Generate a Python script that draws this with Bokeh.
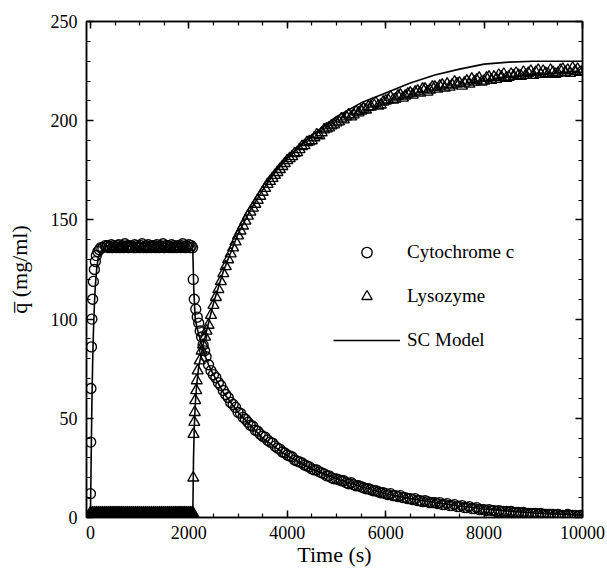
from bokeh.plotting import figure
from bokeh.models import (LinearAxis, SingleIntervalTicker, Range1d, Legend,
                          LegendItem)
from bokeh.embed import file_html
from bokeh.resources import INLINE

# ---------------- data ----------------
# Cytochrome c (circles): breakthrough, plateau, displacement, decay
cyt_rise_time = [0, 5, 10, 20, 30, 45, 60, 80, 100, 120, 150, 180, 210, 250, 300]
cyt_rise_q = [12, 38, 65, 86, 100, 110, 119, 125, 129, 132, 134, 135, 136, 136, 137]

cyt_plateau_time = list(range(325, 2051, 25))
cyt_plateau_q = [136.5, 137, 136, 136.5, 137.5, 136, 137, 136.5, 136, 137,
                 137.5, 136, 136.5, 137, 136, 138, 136.5, 137, 136, 136.5,
                 137, 136.5, 136, 137.5, 136, 137, 136.5, 136, 137, 138,
                 136, 136.5, 137, 136, 137.5, 136.5, 136, 137, 136.5, 137,
                 136, 137.5, 136.5, 136, 137, 136.5, 138, 136, 137, 136.5,
                 137, 136, 136.5, 137.5, 136, 137, 136.5, 136, 137, 136.5,
                 136, 137, 138, 136.5, 136, 137, 136.5, 137.5, 136, 137]

cyt_drop_time = [2075, 2090, 2110, 2140, 2170, 2200, 2230, 2260, 2290, 2320,
                 2350, 2400, 2450]
cyt_drop_q = [136, 120, 110, 105, 101, 98, 94, 91, 87, 84, 81, 77, 74]

cyt_decay_time = list(range(2500, 10001, 50))
cyt_decay_q = [72, 70.5, 68, 66.5, 64, 62, 60.5, 58, 57, 55.5,
               53, 52.5, 50.5, 49.5, 48, 46.5, 46, 44, 43.5, 42,
               41, 40.5, 39, 38, 37.5, 36, 35, 34.5, 33, 32.5,
               31.5, 31, 30.5, 29, 28.5, 28, 27.5, 26.5, 26, 25.5,
               24.5, 24, 24, 23, 22.5, 22, 21, 21, 20, 19.5,
               19.5, 19, 18.5, 18.5, 17.5, 17, 17.5, 16.5, 16, 16,
               15.5, 15, 14.5, 14.5, 14, 13.5, 13.5, 13, 12.5, 12.5,
               12, 11.5, 12, 11, 11, 10.5, 11, 10, 10, 9.5,
               9.5, 9, 9.5, 8.5, 8.5, 8, 8.5, 8, 7.5, 7.5,
               7.5, 7, 7.5, 6.5, 6.5, 7, 6, 6, 6.5, 5.5,
               5.5, 6, 5, 5, 5.5, 4.5, 4.5, 5, 4, 4,
               4, 3.5, 4, 3.5, 3.5, 3, 3.5, 3, 3, 3,
               2.5, 3, 2.5, 2.5, 2.5, 2, 2.5, 2, 2, 2,
               2, 2, 1.5, 2, 1.5, 1.5, 1.5, 1.5, 1.5, 1,
               1.5, 1, 1, 1, 1.5, 1, 1, 1, 0.5, 1,
               1]

# Lysozyme (triangles): zero phase, breakthrough, uptake
lys_zero_time = list(range(0, 2081, 40))
lys_zero_q = [0, 0, 0, 0, 0, 0, 0, 0, 0, 0, 0, 0, 0, 0, 0, 0, 0, 0,
              0, 0, 0, 0, 0, 0, 0, 0, 0, 0, 0, 0, 0, 0, 0, 0, 0, 0,
              0, 0, 0, 0, 0, 0, 0, 0, 0, 0, 0, 0, 0, 0, 0, 0, 0]

lys_rise_time = [2090, 2095, 2110, 2120, 2130, 2150, 2160, 2180, 2220, 2260,
                 2290, 2330, 2360, 2400, 2450]
lys_rise_q = [20, 42, 48, 53, 59, 64, 69, 74, 79, 84, 87, 91, 94, 97, 102]

lys_up_time = list(range(2500, 10001, 50))
lys_up_q = [107, 111, 115, 119, 123, 126.5, 130, 133, 136, 139,
            142, 144.5, 147, 149.5, 152, 154, 156, 158, 160, 162,
            164, 166, 168, 169.5, 171, 172.5, 174, 175.5, 177, 178.5,
            180, 181, 182, 183.5, 184, 185.5, 187, 187.5, 189, 189.5,
            190, 191.5, 193, 192.5, 194, 195.5, 196, 196.5, 197.5, 198,
            199, 199.5, 201, 200.5, 202, 203, 202, 203, 204.5, 204,
            205, 206, 205.5, 207, 207, 208.5, 209, 207.5, 208, 209.5,
            210, 210.5, 212, 210.5, 211, 212.5, 213, 211.5, 212.5, 213.5,
            214, 213, 214.5, 215, 214, 216, 216, 214.5, 215.5, 217,
            217, 216, 217.5, 218, 216.5, 218.5, 217, 218, 219.5, 218.5,
            219, 217.5, 219, 220, 218.5, 221, 219.5, 220.5, 221.5, 219.5,
            220, 221.5, 222, 220.5, 222, 221, 223, 222, 223.5, 221.5,
            222, 223.5, 222.5, 224, 223, 222.5, 224.5, 223, 224, 225,
            223, 224.5, 225.5, 223.5, 225, 224, 223.5, 225.5, 224.5, 223.5,
            224, 225.5, 226, 224.5, 225.5, 224, 226.5, 225, 226, 224.5,
            225]

# SC Model (lines)
cyt_model_time = [0, 10, 20, 30, 45, 60, 80, 100, 130, 160, 200, 250, 300,
                  2080, 2100, 2130, 2170, 2230, 2290, 2400, 2500, 2700, 3000,
                  3500, 4000, 4500, 5000, 5500, 6000, 6500, 7000, 7500, 8000,
                  8500, 9000, 9500, 10000]
cyt_model_q = [0, 20, 40, 58, 78, 93, 107, 117, 126, 131, 134, 135, 135,
               135, 115, 100, 95, 90, 84, 77, 72, 63, 53,
               40, 31, 24.5, 19.5, 15.5, 12, 9.5, 7.5, 5.8, 4.3,
               3.2, 2.3, 1.7, 1.2]
lys_model_time = [0, 2080, 2085, 2095, 2110, 2130, 2160, 2200, 2250, 2300,
                  2400, 2500, 2700, 3000, 3250, 3500, 3750, 4000, 4250, 4500,
                  4750, 5000, 5500, 6000, 6500, 7000, 7500, 8000, 8500, 9000,
                  9500, 10000]
lys_model_q = [0, 0, 10, 30, 45, 57, 67, 76, 82, 88,
               98, 108, 124, 143, 155, 165, 174, 181, 187, 192.5,
               197.5, 202, 209, 214, 219, 223, 226, 228.5, 229.5, 230,
               230, 230]

x_ticks_interval = 2000
y_ticks_interval = 50


def pairs(t, q):
    n = min(len(t), len(q))
    return list(t[:n]), list(q[:n])


cyt_t, cyt_v = pairs(cyt_rise_time + cyt_plateau_time + cyt_drop_time + cyt_decay_time,
                     cyt_rise_q + cyt_plateau_q + cyt_drop_q + cyt_decay_q)
lys_t, lys_v = pairs(lys_rise_time + lys_up_time, lys_rise_q + lys_up_q)
lz_t, lz_v = pairs(lys_zero_time, lys_zero_q)

# ---------------- figure ----------------
FONT = "Liberation Serif"

p = figure(width=607, height=573, output_backend="svg", toolbar_location=None,
           x_range=Range1d(-80, 10000), y_range=Range1d(0, 250),
           min_border_left=86, min_border_right=25, min_border_top=21,
           min_border_bottom=56, background_fill_color="white",
           border_fill_color="white")
p.grid.visible = False
p.outline_line_color = "black"
p.outline_line_width = 1.5


def style_axis(ax, show_labels=True):
    ax.axis_line_color = "black"
    ax.axis_line_width = 1.5
    ax.major_tick_in = 7
    ax.major_tick_out = 0
    ax.minor_tick_in = 4
    ax.minor_tick_out = 0
    ax.major_tick_line_color = "black"
    ax.minor_tick_line_color = "black"
    ax.major_tick_line_width = 1.5
    ax.minor_tick_line_width = 1.2
    ax.major_label_text_font = FONT
    if show_labels:
        ax.major_label_text_color = "black"
        ax.major_label_text_font_size = "18px"
    else:
        ax.major_label_text_color = None
        ax.major_label_text_font_size = "0px"
    ax.axis_label_text_font = FONT
    ax.axis_label_text_font_style = "normal"
    ax.axis_label_text_color = "black"
    ax.axis_label_text_font_size = "22px"


xa = p.xaxis[0]
xa.ticker = SingleIntervalTicker(interval=x_ticks_interval, num_minor_ticks=4)
xa.axis_label = "Time (s)"
style_axis(xa)
xa.major_label_standoff = 8
xa.axis_label_standoff = 0

ya = p.yaxis[0]
ya.ticker = SingleIntervalTicker(interval=y_ticks_interval, num_minor_ticks=5)
ya.axis_label = "q\u0305 (mg/ml)"
style_axis(ya)
ya.major_label_standoff = 9
ya.axis_label_standoff = 16

top = LinearAxis(ticker=SingleIntervalTicker(interval=x_ticks_interval, num_minor_ticks=4))
style_axis(top, show_labels=False)
top.major_label_standoff = 0
p.add_layout(top, "above")
right = LinearAxis(ticker=SingleIntervalTicker(interval=y_ticks_interval, num_minor_ticks=5))
style_axis(right, show_labels=False)
right.major_label_standoff = 0
p.add_layout(right, "right")

# ---------------- glyphs ----------------
r_lz = p.scatter(lz_t, lz_v, marker="triangle", size=20, fill_color="black",
                 line_color="black", line_width=1)
r_cyt = p.scatter(cyt_t, cyt_v, marker="circle", size=10, fill_color=None,
                  line_color="black", line_width=1.35)
r_lys = p.scatter(lys_t, lys_v, marker="triangle", size=11, fill_color=None,
                  line_color="black", line_width=1.35)
r_m1 = p.line(cyt_model_time, cyt_model_q, line_color="black", line_width=1.6)
r_m2 = p.line(lys_model_time, lys_model_q, line_color="black", line_width=1.6)

legend = Legend(items=[LegendItem(label="Cytochrome c", renderers=[r_cyt]),
                       LegendItem(label="Lysozyme", renderers=[r_lys]),
                       LegendItem(label="SC Model", renderers=[r_m1])],
                location=(247, 164), glyph_width=67, glyph_height=26,
                label_height=26, spacing=18, label_standoff=7, padding=0,
                margin=0, border_line_color=None, background_fill_alpha=0,
                label_text_font=FONT, label_text_font_size="19px",
                label_text_color="black")
p.add_layout(legend)

open("out.html", "w").write(file_html(p, INLINE))
